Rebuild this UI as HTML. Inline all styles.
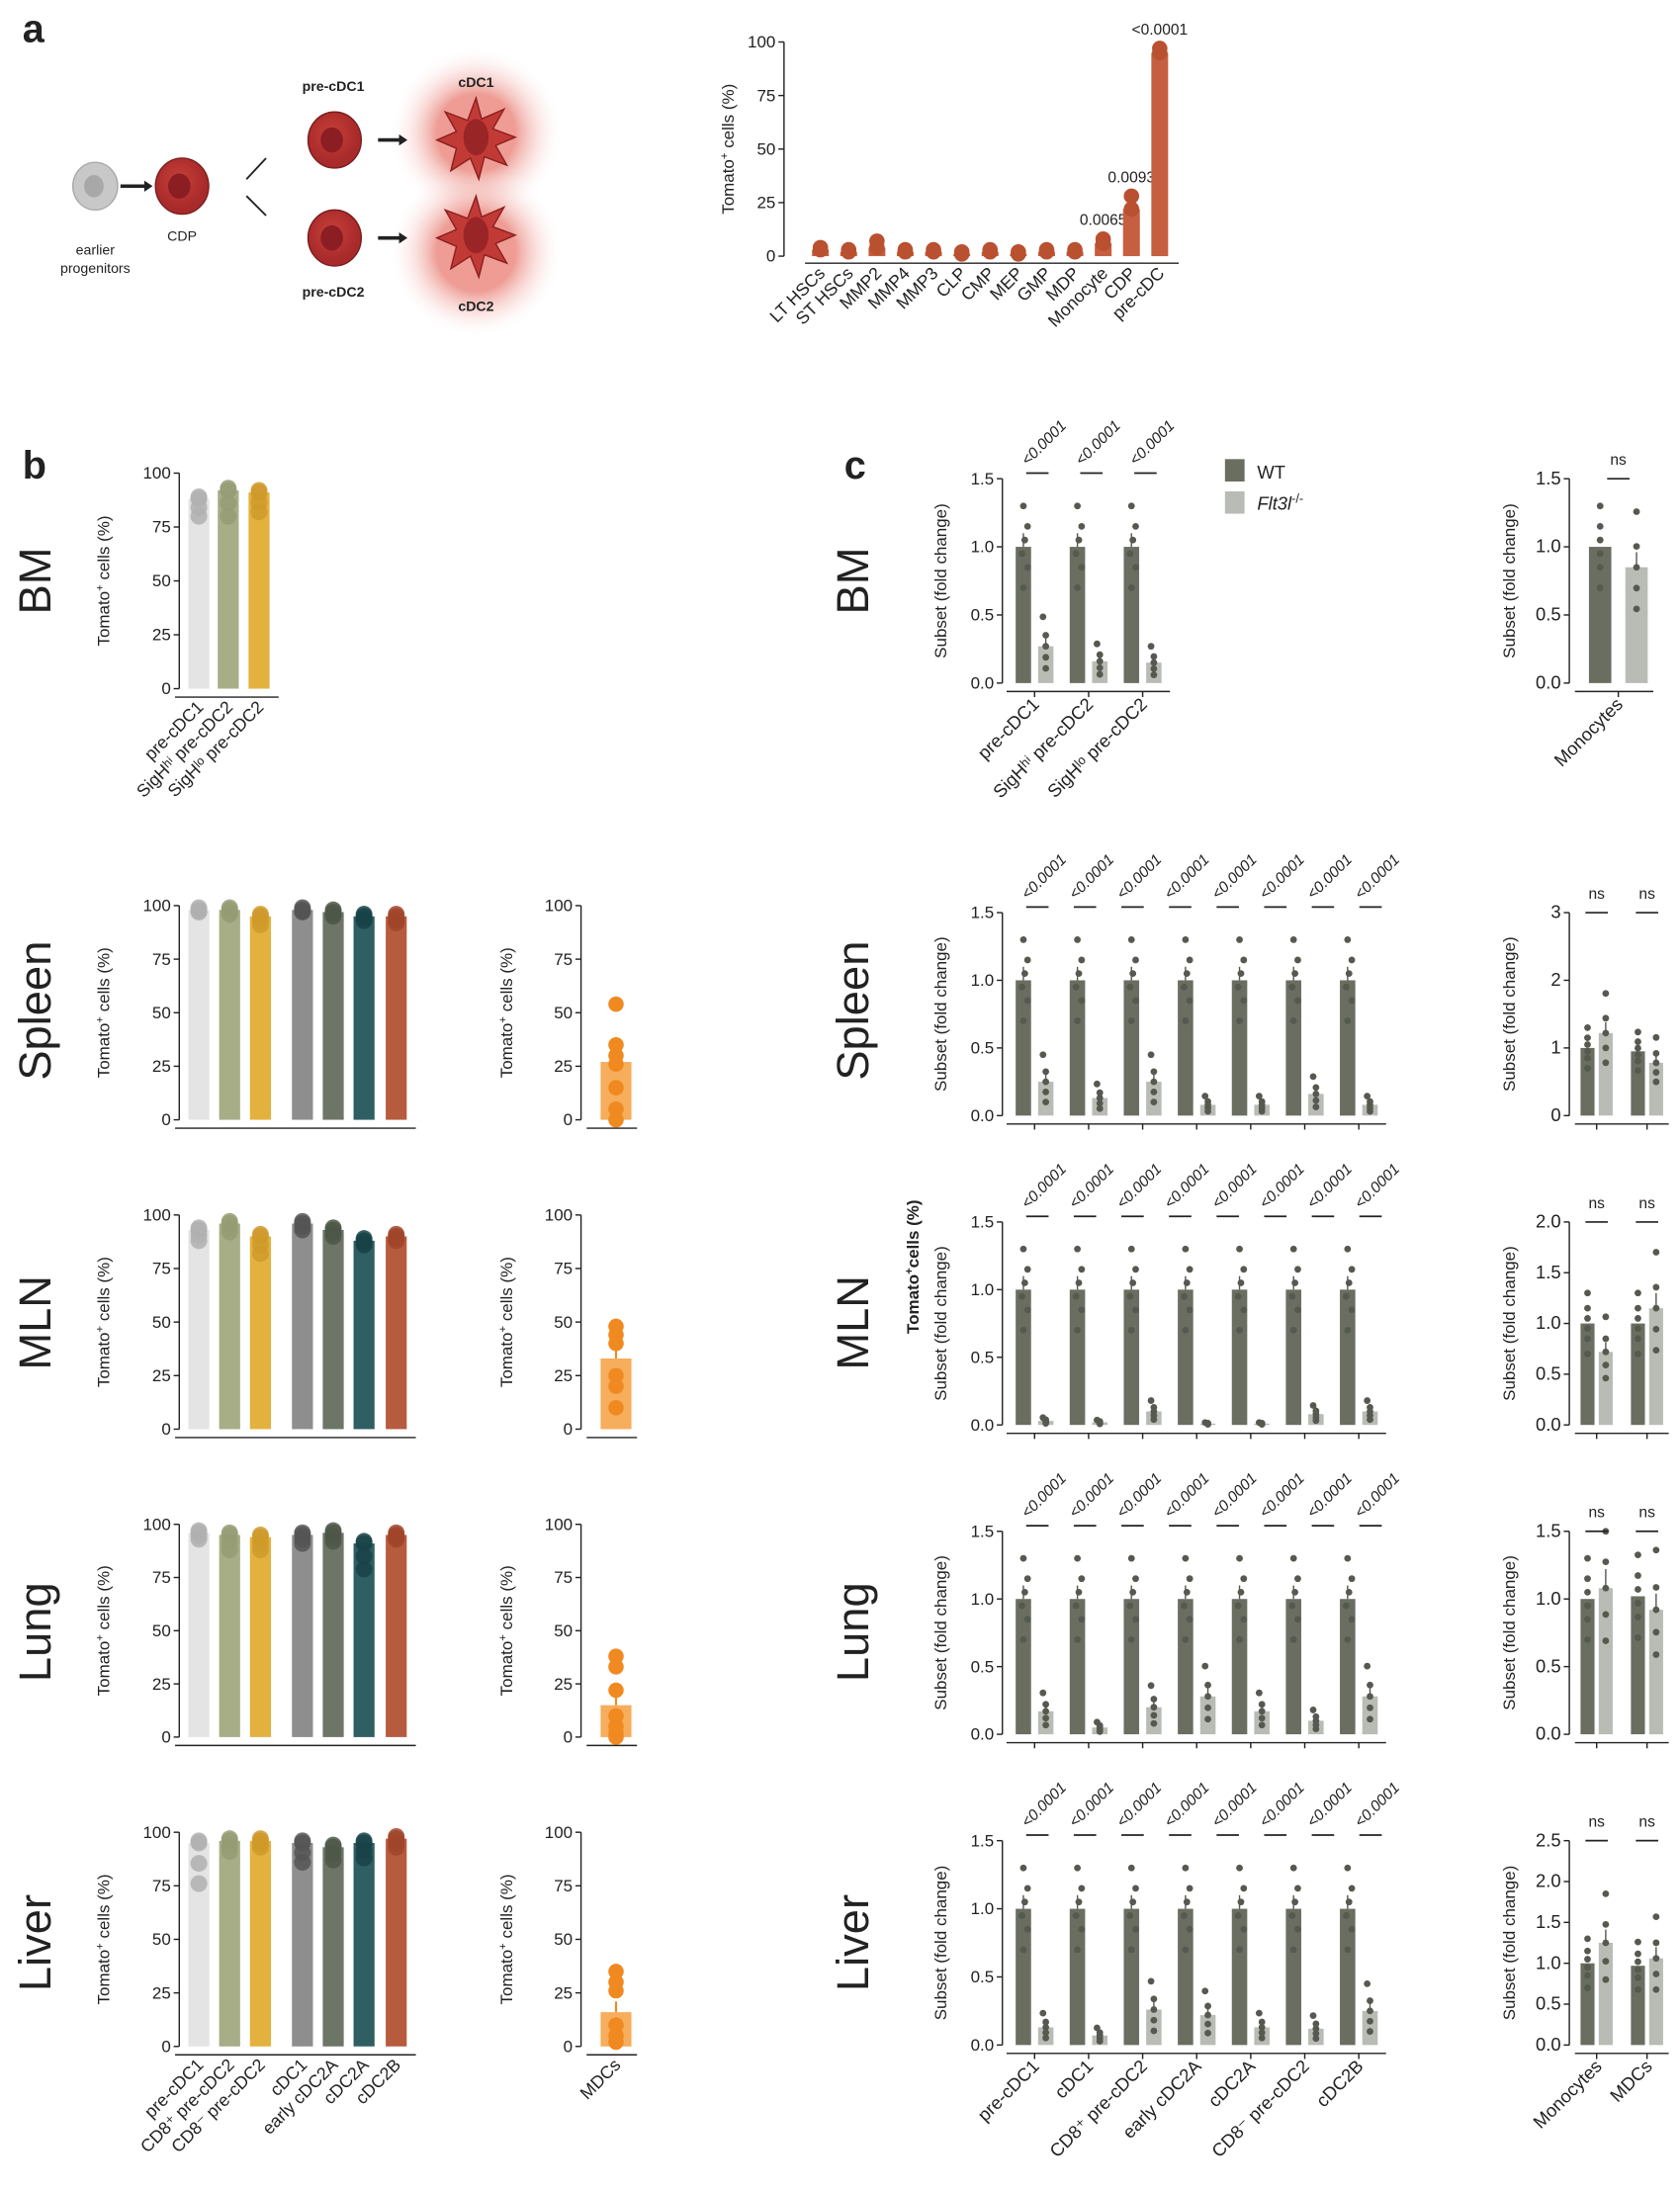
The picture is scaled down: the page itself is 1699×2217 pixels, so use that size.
<!DOCTYPE html>
<html><head><meta charset="utf-8"><style>
html,body{margin:0;padding:0;background:#fff}
svg{display:block}
text{font-family:"Liberation Sans",sans-serif;fill:#222}
</style></head><body>
<svg id="fig" xmlns="http://www.w3.org/2000/svg" width="1699" height="2217" viewBox="0 0 1200 1566">
<defs>
<radialGradient id="glow"><stop offset="0.45" stop-color="#e04a3c" stop-opacity="0.55"/><stop offset="1" stop-color="#ffffff" stop-opacity="0"/></radialGradient>
<radialGradient id="cellg" cx="0.45" cy="0.4"><stop offset="0" stop-color="#c8403a"/><stop offset="1" stop-color="#a82a2a"/></radialGradient>
</defs>
<g><text x="16" y="30" font-size="28" font-weight="bold">a</text></g>
<g><text x="16" y="342" font-size="28" font-weight="bold">b</text></g>
<g><text x="603" y="342" font-size="28" font-weight="bold">c</text></g>

<g id="diagram">
  <circle cx="340" cy="95" r="62" fill="url(#glow)"/>
  <circle cx="340" cy="180" r="62" fill="url(#glow)"/>
  <ellipse cx="68" cy="133" rx="16" ry="17" fill="#c8c8c8" stroke="#aaa"/>
  <ellipse cx="67" cy="133" rx="7" ry="8" fill="#a8a8a8"/>
  <text x="68" y="182" font-size="10" text-anchor="middle">earlier</text>
  <text x="68" y="195" font-size="10" text-anchor="middle">progenitors</text>
  <path d="M86 133 H104" stroke="#222" stroke-width="2.5"/><path d="M103 129 L109 133 L103 137Z" fill="#222"/>
  <ellipse cx="130" cy="133" rx="19" ry="20" fill="url(#cellg)" stroke="#7a1e1e"/>
  <ellipse cx="128" cy="133" rx="8" ry="9" fill="#8a1e22"/>
  <text x="130" y="172" font-size="10" text-anchor="middle">CDP</text>
  <path d="M176 128 L190 113" stroke="#222" stroke-width="1.3"/><path d="M176 140 L190 154" stroke="#222" stroke-width="1.3"/>
  <text x="238" y="65" font-size="10" text-anchor="middle" font-weight="bold">pre-cDC1</text>
  <ellipse cx="239" cy="100" rx="19" ry="20" fill="url(#cellg)" stroke="#7a1e1e"/>
  <ellipse cx="237" cy="100" rx="8" ry="9" fill="#8a1e22"/>
  <ellipse cx="239" cy="170" rx="19" ry="20" fill="url(#cellg)" stroke="#7a1e1e"/>
  <ellipse cx="237" cy="170" rx="8" ry="9" fill="#8a1e22"/>
  <text x="238" y="212" font-size="10" text-anchor="middle" font-weight="bold">pre-cDC2</text>
  <path d="M270 100 H286" stroke="#222" stroke-width="2.5"/><path d="M285 96 L291 100 L285 104Z" fill="#222"/>
  <path d="M270 170 H286" stroke="#222" stroke-width="2.5"/><path d="M285 166 L291 170 L285 174Z" fill="#222"/>
  <g><path d="M340 70 L344 85 L360 78 L352 92 L368 98 L354 104 L362 118 L346 112 L342 128 L336 113 L322 122 L326 106 L312 100 L326 94 L318 80 L334 86Z" fill="#c23a36" stroke="#8a2020"/><ellipse cx="340" cy="98" rx="9" ry="13" fill="#9a2526"/></g>
  <g><path d="M340 140 L344 155 L360 148 L352 162 L368 168 L354 174 L362 188 L346 182 L342 198 L336 183 L322 192 L326 176 L312 170 L326 164 L318 150 L334 156Z" fill="#c23a36" stroke="#8a2020"/><ellipse cx="340" cy="168" rx="9" ry="13" fill="#9a2526"/></g>
  <text x="340" y="62" font-size="10" text-anchor="middle" font-weight="bold">cDC1</text>
  <text x="340" y="222" font-size="10" text-anchor="middle" font-weight="bold">cDC2</text>
</g>
<g id="charts"></g>
</svg>
<script>
// ---------- Panel a data ----------
const aCats=["LT HSCs","ST HSCs","MMP2","MMP4","MMP3","CLP","CMP","MEP","GMP","MDP","Monocyte","CDP","pre-cDC"];
const aVals=[3,2,4,2,2,1,2,1,2,2,6,22,95];
const aMax=[4,3,7,3,3,2,3,2,3,3,8,28,97];
const aPvals=["","","","","","","","","","","0.0065","0.0093","<0.0001"];
const aTicks=[0,25,50,75,100];

// ---------- Panel b data ----------
const bCatsBM=["pre-cDC1","SigH\u02b0\u2071 pre-cDC2","SigH\u02e1\u1d52 pre-cDC2"];
const bCats=["pre-cDC1","CD8\u207a pre-cDC2","CD8\u207b pre-cDC2","cDC1","early cDC2A","cDC2A","cDC2B"];
const bColors=["#e4e4e4","#a7ad87","#e3b23e","#8e8e8e","#6d7666","#2f5f63","#b65b3d"];
const bDotColors=["#b0b0b0","#959c74","#cf9a2a","#555","#4e5748","#174348","#a0452a"];
const bBM=[88,92,91];
const bBMmin=[80,80,82];
const bSpleen=[98,98,95,98,97,95,95];
const bSpleenMin=[97,96,91,97,95,93,92];
const bMLN=[93,96,90,96,93,88,90];
const bMLNmin=[88,92,82,93,90,86,88];
const bLung=[96,95,94,95,96,91,95];
const bLungMin=[93,88,88,91,92,79,93];
const bLiver=[95,96,96,95,93,95,97];
const bLiverMin=[76,91,93,86,87,88,93];
const mdcVals=[27,33,15,16];
const mdcDots=[[54,35,30,26,15,5,0],[48,44,40,25,20,10],[38,33,22,10,5,2,0],[35,30,26,10,5,2]];
const bTicks=[0,25,50,75,100];

// ---------- Panel c data ----------
const cCats=["pre-cDC1","cDC1","CD8\u207a pre-cDC2","early cDC2A","cDC2A","CD8\u207b pre-cDC2","cDC2B"];
const cCatsBM=["pre-cDC1","SigH\u02b0\u2071 pre-cDC2","SigH\u02e1\u1d52 pre-cDC2"];
const wtBM=[1,1,1], koBM=[0.27,0.16,0.15];
const wtSpleen=[1,1,1,1,1,1,1], koSpleen=[0.25,0.13,0.25,0.08,0.08,0.16,0.08];
const wtMLN=[1,1,1,1,1,1,1], koMLN=[0.03,0.02,0.1,0.01,0.01,0.08,0.1];
const wtLung=[1,1,1,1,1,1,1], koLung=[0.17,0.05,0.2,0.28,0.17,0.1,0.28];
const wtLiver=[1,1,1,1,1,1,1], koLiver=[0.13,0.07,0.26,0.22,0.13,0.12,0.25];
const wtDots=[1.3,1.15,1.05,0.95,0.85,0.7];
const koDotFactor=[1.8,1.3,1.0,0.7,0.4];
const rCats=["Monocytes","MDCs"];
const rWT_BM=[1.0], rKO_BM=[0.85];
const rWT_Spleen=[1.0,0.95], rKO_Spleen=[1.22,0.78];
const rWT_MLN=[1.0,1.0], rKO_MLN=[0.72,1.15];
const rWT_Lung=[1.0,1.02], rKO_Lung=[1.08,0.92];
const rWT_Liver=[1.0,0.97], rKO_Liver=[1.25,1.06];

const NS="http://www.w3.org/2000/svg";
const root=document.getElementById('charts');
function el(tag,attrs,parent,txt){const e=document.createElementNS(NS,tag);for(const k in attrs)e.setAttribute(k,attrs[k]);if(txt!==undefined)e.textContent=txt;(parent||root).appendChild(e);return e;}
function grp(name,parent){const g=el('g',{},parent);


return g;}
function yAxis(g,ax,yTop,y0,ticks,max,fmt,title,titleX,fs){
  const sc=v=>y0-(v/max)*(y0-yTop);
  const ln=el('line',{x1:ax,x2:ax,y1:yTop,y2:y0,stroke:'#222','stroke-width':1},g);
  
  
  ticks.forEach(t=>{el('line',{x1:ax-4,x2:ax,y1:sc(t),y2:sc(t),stroke:'#222'},g);
    const tx=el('text',{x:ax-6,y:sc(t)+4,'font-size':fs||12,'text-anchor':'end'},g,fmt(t));
    
    });
  const yt=el('text',{x:0,y:0,'font-size':12,'text-anchor':'middle',transform:`translate(${titleX},${(yTop+y0)/2}) rotate(-90)`},g);
  
  
  yt.innerHTML=title;
  return sc;
}
function rotLabel(g,x,y,txt,fs,italic){
  const t=el('text',{x:0,y:0,'font-size':fs||12,'text-anchor':'end',transform:`translate(${x},${y}) rotate(-45)`},g,txt);
  if(italic)t.setAttribute('font-style','italic');
  
  
  return t;
}
function rowLabel(x,y,txt){const t=el('text',{x:0,y:0,'font-size':32,'text-anchor':'middle',transform:`translate(${x},${y}) rotate(-90)`},root,txt);
  
  }

// ---------- Panel a chart ----------
(function(){
  const g=grp('panel-a-chart');
  const sc=yAxis(g,560,30,183,aTicks,100,t=>t,'Tomato<tspan baseline-shift="super" font-size="8">+</tspan> cells (%)',524);
  el('line',{x1:575,x2:842,y1:188,y2:188,stroke:'#222'},g);
  aCats.forEach((c,i)=>{const x=586+i*20.2;
    const b=el('rect',{x:x-6,y:sc(aVals[i]),width:12,height:183-sc(aVals[i]),fill:'#c65f3f'},g);
    
    
    el('circle',{cx:x,cy:sc(aMax[i]),r:5.5,fill:'#b9502f'},g);
    el('circle',{cx:x,cy:sc(aVals[i]),r:5.5,fill:'#b9502f'},g);
    rotLabel(g,x+4,196,c,12.5);
    if(aPvals[i]){const p=el('text',{x:x,y:sc(aMax[i])-10,'font-size':11,'text-anchor':'middle'},g,aPvals[i]);
      
      }
  });
})();

// ---------- Panel b ----------
function bChart(name,yTop,y0,xs,vals,mins,colors,dcolors,cats){
  const g=grp(name);
  const sc=yAxis(g,128,yTop,y0,bTicks,100,t=>t,'Tomato<tspan baseline-shift="super" font-size="8">+</tspan> cells (%)',78);
  el('line',{x1:125,x2:xs[xs.length-1]+14,y1:y0+6,y2:y0+6,stroke:'#222'},g);
  xs.forEach((x,i)=>{
    const b=el('rect',{x:x-7.5,y:sc(vals[i]),width:15,height:y0-sc(vals[i]),fill:colors[i]},g);
    
    
    [vals[i]+1,vals[i],(vals[i]+mins[i])/2,mins[i]].forEach(v=>el('circle',{cx:x,cy:sc(Math.min(v,100)),r:6,fill:dcolors[i],opacity:0.85},g));
    if(cats)rotLabel(g,x+4,y0+14,cats[i],12.5);
  });
}
function mdcChart(name,yTop,y0,idx,label){
  const g=grp(name);
  const ax=415;
  const sc=yAxis(g,ax,yTop,y0,bTicks,100,t=>t,'Tomato<tspan baseline-shift="super" font-size="8">+</tspan> cells (%)',366);
  el('line',{x1:ax+4,x2:ax+40,y1:y0+6,y2:y0+6,stroke:'#222'},g);
  const b=el('rect',{x:429,y:sc(mdcVals[idx]),width:22,height:y0-sc(mdcVals[idx]),fill:'#f6ad5c'},g);
  
  
  el('line',{x1:440,x2:440,y1:sc(mdcVals[idx]),y2:sc(mdcVals[idx]+5),stroke:'#f08a20','stroke-width':1.5},g);
  mdcDots[idx].forEach(v=>el('circle',{cx:440,cy:sc(v),r:5.5,fill:'#f08a20'},g));
  if(label)rotLabel(g,444,y0+14,'MDCs',12.5);
}
const xsBM=[142,163,185], xs7=[142,164,186,216,238,260,283];
bChart('b-bm-chart',338,492,xsBM,bBM,bBMmin,bColors,bDotColors,bCatsBM);
bChart('b-spleen-chart',647,800,xs7,bSpleen,bSpleenMin,bColors,bDotColors);
bChart('b-mln-chart',868,1021,xs7,bMLN,bMLNmin,bColors,bDotColors);
bChart('b-lung-chart',1089,1241,xs7,bLung,bLungMin,bColors,bDotColors);
bChart('b-liver-chart',1309,1462,xs7,bLiver,bLiverMin,bColors,bDotColors,bCats);
mdcChart('b-spleen-mdc-chart',647,800,0);
mdcChart('b-mln-mdc-chart',868,1021,1);
mdcChart('b-lung-mdc-chart',1089,1241,2);
mdcChart('b-liver-mdc-chart',1309,1462,3,true);
rowLabel(36,415,'BM');rowLabel(36,722,'Spleen');rowLabel(36,945,'MLN');rowLabel(36,1166,'Lung');rowLabel(36,1388,'Liver');
rowLabel(620,415,'BM');rowLabel(620,722,'Spleen');rowLabel(620,945,'MLN');rowLabel(620,1166,'Lung');rowLabel(620,1388,'Liver');

// ---------- Panel c ----------
const WT='#696e61', KO='#b9bcb5', DOT='#55594f';
function cChart(name,ax,yTop,y0,max,ticks,fmt,wt,ko,x0,step,koOff,bw,sig,sigStep,cats,nLabels){
  const g=grp(name);
  const sc=yAxis(g,ax,yTop,y0,ticks,max,fmt,'Subset (fold change)',ax-40);
  const last=x0+(wt.length-1)*step+koOff;
  el('line',{x1:ax+3,x2:last+bw/2+6,y1:y0+6,y2:y0+6,stroke:'#222'},g);
  wt.forEach((v,i)=>{const x=x0+i*step;
    const b=el('rect',{x:x-bw/2,y:sc(v),width:bw,height:y0-sc(v),fill:WT},g);
    
    
    el('line',{x1:x,x2:x,y1:sc(v),y2:sc(v+0.1),stroke:DOT},g);
    wtDots.forEach(d=>el('circle',{cx:x+((d*10)%3-1)*2,cy:sc(d*v),r:2.4,fill:DOT},g));
    const k=ko[i];
    const b2=el('rect',{x:x+koOff-bw/2,y:sc(k),width:bw,height:y0-sc(k),fill:KO},g);
    
    
    el('line',{x1:x+koOff,x2:x+koOff,y1:sc(k),y2:sc(k*1.25+0.02),stroke:DOT},g);
    koDotFactor.forEach(d=>el('circle',{cx:x+koOff+((d*10)%3-1)*2,cy:sc(Math.min(d*k,max)),r:2.4,fill:DOT},g));
    el('line',{x1:x+(koOff/2),x2:x+(koOff/2),y1:y0+6,y2:y0+10,stroke:'#222'},g);
    if(cats)rotLabel(g,x+koOff/2+4,y0+16,cats[i],13);
  });
  const n=nLabels||wt.length;
  for(let i=0;i<n;i++){const x=x0+2+i*sigStep;
    el('line',{x1:x,x2:x+16,y1:yTop-4,y2:yTop-4,stroke:'#222','stroke-width':1.2},g);
    const t=el('text',{x:0,y:0,'font-size':11,'font-style':'italic',transform:`translate(${x+1},${yTop-9}) rotate(-45)`},g,sig);
    
    }
}
const f1=t=>t.toFixed(1), f0=t=>String(t);
const tk15=[0,0.5,1,1.5];
cChart('c-bm-chart',716,342,488,1.5,tk15,f1,wtBM,koBM,731,38.6,16,11,'<0.0001',38.6,cCatsBM);
cChart('c-spleen-chart',716,652,797,1.5,tk15,f1,wtSpleen,koSpleen,731,38.6,16,11,'<0.0001',34,null,8);
cChart('c-mln-chart',716,873,1018,1.5,tk15,f1,wtMLN,koMLN,731,38.6,16,11,'<0.0001',34,null,8);
cChart('c-lung-chart',716,1094,1239,1.5,tk15,f1,wtLung,koLung,731,38.6,16,11,'<0.0001',34,null,8);
cChart('c-liver-chart',716,1315,1461,1.5,tk15,f1,wtLiver,koLiver,731,38.6,16,11,'<0.0001',34,cCats,8);
// right charts
function rChart(name,yTop,y0,max,ticks,fmt,wt,ko,cats,bw,x0,step,koOff){
  const g=grp(name);
  const sc=yAxis(g,1121,yTop,y0,ticks,max,fmt,'Subset (fold change)',1082,13);
  const last=x0+(wt.length-1)*step+koOff;
  el('line',{x1:1125,x2:last+bw/2+4,y1:y0+6,y2:y0+6,stroke:'#222'},g);
  wt.forEach((v,i)=>{const x=x0+i*step;
    const b=el('rect',{x:x-bw/2,y:sc(v),width:bw,height:y0-sc(v),fill:WT},g);
    
    
    wtDots.forEach(d=>el('circle',{cx:x,cy:sc(Math.min(d*v,max)),r:2.4,fill:DOT},g));
    const k=ko[i];
    const b2=el('rect',{x:x+koOff-bw/2,y:sc(k),width:bw,height:y0-sc(k),fill:KO},g);
    
    
    el('line',{x1:x+koOff,x2:x+koOff,y1:sc(k),y2:sc(k*1.13),stroke:DOT},g);
    koDotFactor.forEach(d=>el('circle',{cx:x+koOff,cy:sc(Math.min(d*k*0.6+0.4*k,max)),r:2.4,fill:DOT},g));
    const mx=x+koOff/2;
    el('line',{x1:mx-8,x2:mx+8,y1:yTop,y2:yTop,stroke:'#222','stroke-width':1.2},g);
    el('line',{x1:mx,x2:mx,y1:y0+6,y2:y0+10,stroke:'#222'},g);
    const ns=el('text',{x:mx,y:yTop-10,'font-size':11,'text-anchor':'middle'},g,'ns');
    
    
  });
}
rChart('c-bm-right-chart',342,488,1.5,tk15,f1,rWT_BM,rKO_BM,['Monocytes'],16,1143,0,26);
rotLabel(root,1160,504,'Monocytes',13);
rChart('c-spleen-right-chart',652,797,3,[0,1,2,3],f0,rWT_Spleen,rKO_Spleen,rCats,10,1134,36,13);
rChart('c-mln-right-chart',873,1018,2,[0,0.5,1,1.5,2],f1,rWT_MLN,rKO_MLN,rCats,10,1134,36,13);
rChart('c-lung-right-chart',1094,1239,1.5,tk15,f1,rWT_Lung,rKO_Lung,rCats,10,1134,36,13);
rChart('c-liver-right-chart',1315,1461,2.5,[0,0.5,1,1.5,2,2.5],f1,rWT_Liver,rKO_Liver,rCats,10,1134,36,13);
rotLabel(root,1145,1477,'Monocytes',13);
rotLabel(root,1181,1477,'MDCs',13);

// legend
(function(){const g=grp('legend');
  const a=el('rect',{x:875,y:328,width:14,height:16,fill:WT},g);
  
  
  el('text',{x:898,y:342,'font-size':13},g,'WT');
  const b=el('rect',{x:875,y:351,width:14,height:16,fill:KO},g);
  
  
  const t=el('text',{x:898,y:364,'font-size':13,'font-style':'italic'},g);
  t.innerHTML='Flt3l<tspan baseline-shift="super" font-size="9" font-style="normal">-/-</tspan>';
  const m=el('text',{x:0,y:0,'font-size':12,'font-weight':'bold','text-anchor':'middle',transform:'translate(656,905) rotate(-90)'},root);
  
  
  m.innerHTML='Tomato<tspan baseline-shift="super" font-size="8">+</tspan>cells (%)';
})();
</script>
</body></html>
